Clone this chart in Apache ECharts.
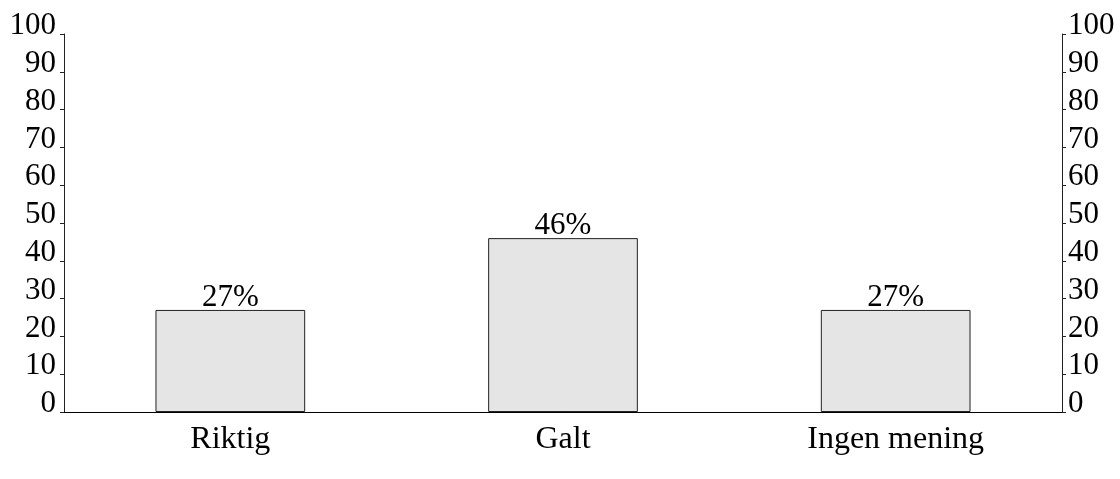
<!DOCTYPE html>
<html>
<head>
<meta charset="utf-8">
<script src="https://cdn.jsdelivr.net/npm/echarts@6/dist/echarts.min.js"></script>
<style>
  html, body { margin: 0; padding: 0; background: #fff; }
  #chart { width: 1120px; height: 479px; }
</style>
</head>
<body>
<div id="chart"></div>
<script>
// data
var categories = ['Riktig', 'Galt', 'Ingen mening'];
var answers = [27, 46, 27];
var yTicks = [0, 10, 20, 30, 40, 50, 60, 70, 80, 90, 100];

var font = 'Liberation Serif, Times New Roman, serif';

function valueAxis(pos, margin) {
  return {
    type: 'value',
    position: pos,
    min: yTicks[0],
    max: yTicks[yTicks.length - 1],
    interval: yTicks[1] - yTicks[0],
    splitLine: { show: false },
    axisLine: { show: true, lineStyle: { color: '#222', width: 1 } },
    axisTick: { show: true, length: 4, lineStyle: { color: '#222' } },
    axisLabel: {
      margin: margin,
      color: '#000',
      fontFamily: font,
      fontSize: 31,
      lineHeight: 16,
      verticalAlign: 'bottom'
    }
  };
}

var myChart = echarts.init(document.getElementById('chart'));
myChart.setOption({
  animation: false,
  grid: { left: 64, right: 58, top: 34, bottom: 67 },
  xAxis: {
    type: 'category',
    data: categories,
    axisLine: { show: true, lineStyle: { color: '#000', width: 1 } },
    axisTick: { show: false },
    axisLabel: { margin: 12, color: '#000', fontFamily: font, fontSize: 32 }
  },
  yAxis: [valueAxis('left', 8), valueAxis('right', 6)],
  series: [{
    type: 'bar',
    yAxisIndex: 0,
    barWidth: '45%',
    data: answers,
    itemStyle: { color: '#e5e5e5', borderColor: '#222', borderWidth: 1 },
    label: {
      show: true,
      position: 'top',
      distance: 3,
      formatter: '{c}%',
      color: '#000',
      fontFamily: font,
      fontSize: 31,
      lineHeight: 18
    }
  }]
});
</script>
</body>
</html>
